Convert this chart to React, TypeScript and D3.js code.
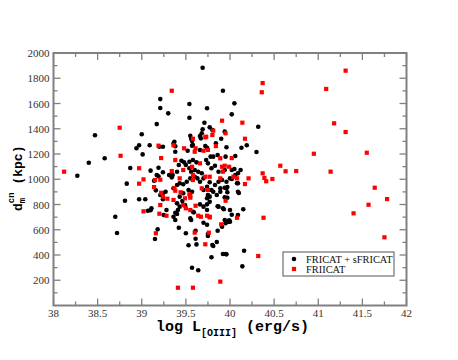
import React from "react";
import * as d3 from "d3";

const W = 458;
const H = 360;

// FRICAT + sFRICAT: [log L[OIII], d_m^cn (kpc)]
const fricatPoints: [number, number][] = [
  [38.27, 1028], [38.47, 1348], [38.40, 1131], [38.58, 1166], [38.83, 965], [38.87, 1089],
  [38.94, 1245], [38.97, 1269], [39.00, 1356], [39.01, 1197], [39.09, 1269], [39.10, 1068],
  [39.14, 988], [39.17, 1437], [39.21, 1635], [39.21, 1564], [39.24, 1258], [39.17, 1034],
  [39.19, 1023], [39.19, 1091], [39.30, 1522], [39.31, 1034], [39.35, 1034], [39.38, 1218],
  [39.37, 1297], [39.38, 1261], [39.40, 1060], [39.54, 1596], [39.54, 1487], [39.56, 1321],
  [39.55, 1345], [39.58, 1271], [39.67, 1324], [39.69, 1396], [39.71, 1448], [39.69, 1883],
  [39.74, 1562], [39.92, 1701], [39.77, 1411], [39.80, 1390], [39.84, 1285], [39.90, 1321],
  [39.96, 1253], [38.70, 703], [38.72, 574], [38.81, 830], [38.97, 841], [39.04, 841],
  [39.07, 751], [39.10, 754], [39.16, 912], [39.18, 603], [39.15, 527], [39.25, 717],
  [39.28, 756], [39.24, 841], [39.38, 735], [39.40, 725], [39.41, 756], [39.42, 616],
  [39.46, 827], [39.49, 790], [39.50, 572], [39.53, 477], [39.56, 677], [39.57, 299],
  [39.59, 738], [39.61, 529], [39.62, 484], [39.61, 592], [39.64, 279], [39.66, 801],
  [39.70, 656], [39.74, 801], [39.74, 640], [39.75, 566], [39.80, 479], [39.79, 382],
  [39.86, 786], [39.86, 592], [39.85, 503], [39.92, 408], [39.95, 408], [39.95, 651],
  [39.98, 664], [39.91, 624], [40.05, 1601], [40.02, 1514], [40.32, 1416], [39.94, 1377],
  [40.13, 1250], [40.19, 1269], [40.30, 1216], [39.95, 1179], [40.05, 1081], [40.12, 1073],
  [40.06, 1034], [40.02, 1002], [40.09, 968], [39.97, 938], [40.15, 762], [40.09, 717],
  [40.02, 719], [39.99, 675], [39.93, 762], [39.97, 854], [39.94, 857], [39.97, 897],
  [40.10, 891], [40.08, 968], [39.96, 405], [40.16, 434], [40.14, 310], [39.20, 1258],
  [39.52, 1226], [39.57, 1266], [39.66, 1232], [39.74, 1250], [39.24, 1055], [39.34, 1015],
  [39.42, 1113], [39.45, 1147], [39.48, 1134], [39.50, 1113], [39.54, 1087], [39.56, 1060],
  [39.60, 1073], [39.64, 1060], [39.68, 1047], [39.70, 1007], [39.66, 980], [39.63, 1007],
  [39.60, 1020], [39.55, 1007], [39.51, 980], [39.47, 960], [39.43, 968], [39.40, 954],
  [39.36, 928], [39.74, 941], [39.77, 976], [39.70, 915], [39.57, 901], [39.53, 915],
  [39.47, 889], [39.43, 862], [39.40, 809], [39.24, 889], [39.27, 901], [39.21, 875],
  [39.11, 770], [39.43, 783], [39.49, 796], [39.55, 690], [39.70, 783], [39.74, 756],
  [39.77, 822], [39.58, 743], [39.36, 703], [39.38, 677], [39.36, 1285], [39.57, 1303],
  [39.66, 1342], [39.68, 1364], [39.72, 1263], [39.75, 550], [39.81, 471], [39.54, 1139],
  [39.58, 1152], [39.62, 1134], [39.73, 1152], [39.81, 1179], [40.06, 1184], [39.89, 928],
  [39.96, 928], [39.81, 901], [39.77, 862], [39.92, 770], [39.78, 1179], [39.86, 1192],
  [39.75, 1126], [39.79, 1087], [39.83, 1107], [39.87, 1060], [39.94, 1073], [40.02, 1073],
  [40.09, 1047], [40.00, 1007], [39.96, 980], [39.91, 994], [39.87, 980], [39.83, 954],
  [39.79, 915], [39.75, 875], [39.74, 849], [39.85, 875], [39.89, 901], [39.94, 933],
  [40.09, 901], [39.87, 783], [40.00, 756], [39.94, 677], [40.00, 664],
];

// FRIICAT: [log L[OIII], d_m^cn (kpc)]
const friicatPoints: [number, number][] = [
  [38.12, 1060], [38.75, 1408], [38.76, 1186], [38.97, 1087], [39.02, 999], [38.97, 965],
  [39.34, 1701], [39.19, 1266], [39.22, 1168], [39.21, 996], [39.36, 1269], [39.34, 1065],
  [39.48, 1245], [39.58, 1321], [39.61, 1245], [39.73, 1337], [39.80, 1350], [39.81, 1385],
  [39.91, 1464], [39.84, 1263], [39.95, 1364], [39.02, 746], [39.14, 938], [39.20, 727],
  [39.16, 572], [39.22, 893], [39.29, 846], [39.37, 931], [39.41, 141], [39.50, 770],
  [39.44, 897], [39.55, 867], [39.58, 141], [39.60, 577], [39.61, 790], [39.64, 711],
  [39.67, 703], [39.72, 485], [39.76, 577], [39.74, 711], [39.77, 698], [39.90, 643],
  [39.89, 189], [39.95, 830], [40.14, 1448], [40.37, 1762], [40.36, 1689], [40.17, 1321],
  [40.02, 1168], [41.31, 1860], [41.09, 1715], [41.18, 1443], [41.31, 1374], [40.95, 1202],
  [41.55, 1210], [40.57, 1107], [40.63, 1063], [40.75, 1065], [41.14, 1060], [40.37, 1047],
  [40.39, 1010], [40.41, 984], [40.48, 1002], [40.21, 1007], [40.17, 962], [41.64, 933],
  [41.78, 843], [41.57, 798], [41.40, 730], [41.75, 540], [40.38, 695], [40.32, 392],
  [40.08, 695], [39.38, 1152], [39.60, 1218], [39.70, 1226], [39.66, 1126], [39.57, 1099],
  [39.47, 1073], [39.15, 994], [39.38, 909], [39.54, 881], [39.55, 854], [39.49, 849],
  [39.36, 836], [39.24, 862], [39.21, 796], [39.28, 711], [39.55, 756], [39.47, 796],
  [39.58, 994], [39.43, 1007], [39.72, 1020], [39.68, 928], [39.75, 915], [39.75, 1232],
  [39.89, 1166], [39.91, 1099], [39.94, 1107], [39.99, 1099], [39.92, 1060], [39.89, 1007],
  [40.08, 1007], [39.77, 1020], [39.77, 703], [39.72, 1332], [40.04, 1020], [39.58, 1034],
];

const xMajorTicks = [38, 38.5, 39, 39.5, 40, 40.5, 41, 41.5, 42];
const xTickLabels = ["38", "38.5", "39", "39.5", "40", "40.5", "41", "41.5", "42"];
const yMajorTicks = [200, 400, 600, 800, 1000, 1200, 1400, 1600, 1800, 2000];
const legendLabels = ["FRICAT + sFRICAT", "FRIICAT"];

const L = 53.5, R = 406.5, T = 53, B = 305.5;

export default function App() {
  const x = d3.scaleLinear().domain([38, 42]).range([L, R]);
  const y = d3.scaleLinear().domain([0, 2000]).range([B, T]);
  const xMinor = d3.range(38.25, 42, 0.5);
  const yMinor = d3.range(100, 2000, 200);
  const axisColor = "#808080";
  const major = 7, minor = 4;
  const mono = "'Liberation Mono', 'DejaVu Sans Mono', monospace";
  const serif = "'Liberation Serif', 'DejaVu Serif', serif";

  return (
    <svg width={W} height={H} style={{ position: "absolute", left: 0, top: 0, background: "#fff" }}>
      {fricatPoints.map((p, i) => (
        <circle key={"b" + i} cx={x(p[0])} cy={y(p[1])} r={2.3} fill="#000" />
      ))}
      {friicatPoints.map((p, i) => (
        <rect key={"r" + i} x={x(p[0]) - 2.1} y={y(p[1]) - 2.1} width={4.2} height={4.2} fill="#ff0000" />
      ))}

      <g stroke={axisColor} strokeWidth={1.3}>
        {xMajorTicks.map((t) => (
          <g key={"xt" + t}>
            <line x1={x(t)} x2={x(t)} y1={B} y2={B - major} />
            <line x1={x(t)} x2={x(t)} y1={T} y2={T + major} />
          </g>
        ))}
        {xMinor.map((t) => (
          <g key={"xm" + t}>
            <line x1={x(t)} x2={x(t)} y1={B} y2={B - minor} />
            <line x1={x(t)} x2={x(t)} y1={T} y2={T + minor} />
          </g>
        ))}
        {yMajorTicks.map((t) => (
          <g key={"yt" + t}>
            <line x1={L} x2={L + major} y1={y(t)} y2={y(t)} />
            <line x1={R} x2={R - major} y1={y(t)} y2={y(t)} />
          </g>
        ))}
        {yMinor.map((t) => (
          <g key={"ym" + t}>
            <line x1={L} x2={L + minor} y1={y(t)} y2={y(t)} />
            <line x1={R} x2={R - minor} y1={y(t)} y2={y(t)} />
          </g>
        ))}
      </g>
      <rect x={L} y={T} width={R - L} height={B - T} fill="none" stroke={axisColor} strokeWidth={2} />

      <g fontFamily={serif} fontSize={11} fill="#333">
        {xMajorTicks.map((t, i) => (
          <text key={"xl" + t} x={x(t)} y={B + 11.5} textAnchor="middle">{xTickLabels[i]}</text>
        ))}
        {yMajorTicks.map((t) => (
          <text key={"yl" + t} x={L - 4} y={y(t) + 4} textAnchor="end">{t}</text>
        ))}
      </g>

      <text x={156} y={331} fontFamily={mono} fontWeight="bold" fontSize={15} fill="#000">
        log L<tspan fontSize={10} dy={5}>[OIII]</tspan><tspan dy={-5}> (erg/s)</tspan>
      </text>
      <text
        transform={`translate(22, 211) rotate(-90)`}
        textAnchor="start"
        fontFamily={mono}
        fontWeight="bold"
        fontSize={13}
        fill="#000"
      >
        d<tspan fontSize={9} dy={3}>m</tspan><tspan fontSize={9} dx={-5.4} dy={-11}>cn</tspan><tspan dy={8}> (kpc)</tspan>
      </text>

      <rect x={283} y={252} width={111} height={24} fill="#fff" stroke="#555" strokeWidth={1} />
      <circle cx={294} cy={259} r={2.3} fill="#000" />
      <rect x={291.9} y={266.9} width={4.2} height={4.2} fill="#ff0000" />
      <g fontFamily={serif} fontSize={10.4} fill="#111">
        <text x={306} y={262.8}>{legendLabels[0]}</text>
        <text x={306} y={272.8}>{legendLabels[1]}</text>
      </g>
    </svg>
  );
}
